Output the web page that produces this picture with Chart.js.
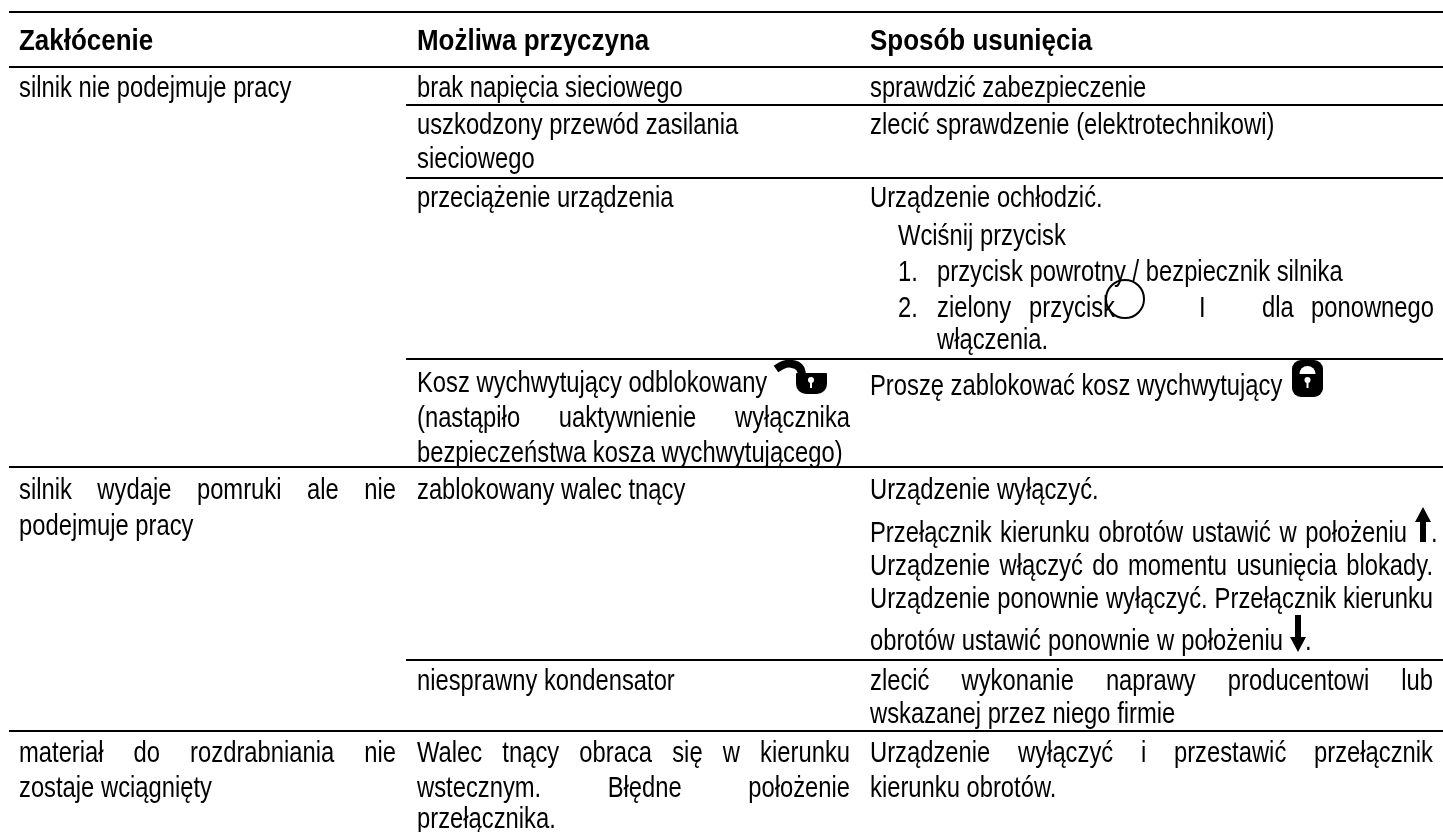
<!DOCTYPE html>
<html>
<head>
<meta charset="utf-8">
<script src="https://cdn.jsdelivr.net/npm/chart.js@4/dist/chart.umd.min.js"></script>
<style>
  html, body { margin: 0; padding: 0; background: #fff; }
  canvas { display: block; }
</style>
</head>
<body>
<canvas id="table" width="1443" height="832"></canvas>
<script>
// the picture is a table, so the axes run in page units and carry the rules and text
const headers = ["Zakłócenie", "Możliwa przyczyna", "Sposób usunięcia"];
const headerX = [19, 417, 870];
const headerY = 50;

const faults = [
  "silnik nie podejmuje pracy",
  "silnik wydaje pomruki ale nie",
  "podejmuje pracy",
  "materiał do rozdrabniania nie",
  "zostaje wciągnięty",
];
const faultY = [97, 499, 535, 762, 797];

const causes = [
  "brak napięcia sieciowego",
  "uszkodzony przewód zasilania",
  "sieciowego",
  "przeciążenie urządzenia",
  "Kosz wychwytujący odblokowany",
  "(nastąpiło uaktywnienie wyłącznika",
  "bezpieczeństwa kosza wychwytującego)",
  "zablokowany walec tnący",
  "niesprawny kondensator",
  "Walec tnący obraca się w kierunku",
  "wstecznym. Błędne położenie",
  "przełącznika.",
];
const causeY = [97, 134, 168, 207, 392, 427, 462, 499, 690, 762, 797, 828];

const remedies = [
  "sprawdzić zabezpieczenie",
  "zlecić sprawdzenie (elektrotechnikowi)",
  "Urządzenie ochłodzić.",
  "Wciśnij przycisk",
  "1.",
  "przycisk powrotny / bezpiecznik silnika",
  "2.",
  "zielony przycisk",
  "I",
  "dla ponownego",
  "włączenia.",
  "Proszę zablokować kosz wychwytujący",
  "Urządzenie wyłączyć.",
  "Przełącznik kierunku obrotów ustawić w położeniu",
  ".",
  "Urządzenie włączyć do momentu usunięcia blokady.",
  "Urządzenie ponownie wyłączyć. Przełącznik kierunku",
  "obrotów ustawić ponownie w położeniu",
  ".",
  "zlecić wykonanie naprawy producentowi lub",
  "wskazanej przez niego firmie",
  "Urządzenie wyłączyć i przestawić przełącznik",
  "kierunku obrotów.",
];
const remedyX = [870, 870, 870, 898, 898, 937, 898, 937, 1199, 1262, 937, 870, 870, 870, 1431, 870, 870, 870, 1305, 870, 870, 870, 870];
const remedyY = [97, 134, 207, 245, 281, 281, 317, 317, 317, 317, 349, 395, 499, 542, 542, 575, 608, 650, 650, 690, 723, 762, 797];

// lines set full measure, mapped to their right edge
const justified = {
  "silnik wydaje pomruki ale nie": 396,
  "materiał do rozdrabniania nie": 396,
  "(nastąpiło uaktywnienie wyłącznika": 850,
  "Walec tnący obraca się w kierunku": 850,
  "wstecznym. Błędne położenie": 850,
  "zielony przycisk": 1115,
  "dla ponownego": 1434,
  "Przełącznik kierunku obrotów ustawić w położeniu": 1407,
  "Urządzenie włączyć do momentu usunięcia blokady.": 1433,
  "Urządzenie ponownie wyłączyć. Przełącznik kierunku": 1433,
  "obrotów ustawić ponownie w położeniu": 1283,
  "zlecić wykonanie naprawy producentowi lub": 1433,
  "Urządzenie wyłączyć i przestawić przełącznik": 1433,
};

const ruleY = [12, 67, 105, 178, 359, 467, 660, 731];
const ruleStart = [9, 9, 406, 406, 406, 9, 406, 9];
const pageRight = 1443;

const FONT_SIZE = 29;
const X_SQUEEZE = 0.82;
const X_SQUEEZE_BOLD = 0.895;

function putText(ctx, scales, text, x, y, bold) {
  const right = justified[text];
  const squeeze = bold ? X_SQUEEZE_BOLD : X_SQUEEZE;
  ctx.save();
  ctx.font = `${bold ? "bold " : ""}${FONT_SIZE}px "Liberation Sans", Arial, sans-serif`;
  ctx.fillStyle = "#000";
  ctx.textBaseline = "alphabetic";
  ctx.translate(scales.x.getPixelForValue(x), scales.y.getPixelForValue(y));
  ctx.scale(squeeze, 1);
  const gaps = text.split(" ").length - 1;
  if (right && gaps > 0) {
    const spare = (right - x) / squeeze - ctx.measureText(text).width;
    ctx.wordSpacing = `${spare / gaps}px`;
  }
  ctx.fillText(text, 0, 0);
  ctx.restore();
}

function drawArrow(ctx, scales, x, top, bottom, up) {
  const px = scales.x.getPixelForValue(x);
  const y0 = scales.y.getPixelForValue(top);
  const y1 = scales.y.getPixelForValue(bottom);
  const tip = up ? y0 : y1;
  const tail = up ? y1 : y0;
  const dir = up ? 1 : -1;
  ctx.fillStyle = "#000";
  ctx.beginPath();
  ctx.moveTo(px, tip);
  ctx.lineTo(px + 8, tip + dir * 15);
  ctx.lineTo(px + 3, tip + dir * 15);
  ctx.lineTo(px + 3, tail);
  ctx.lineTo(px - 3, tail);
  ctx.lineTo(px - 3, tip + dir * 15);
  ctx.lineTo(px - 8, tip + dir * 15);
  ctx.closePath();
  ctx.fill();
}

function keyhole(ctx, cx, cy) {
  ctx.fillStyle = "#fff";
  ctx.beginPath();
  ctx.arc(cx, cy, 3, 0, Math.PI * 2);
  ctx.fill();
  ctx.fillRect(cx - 1, cy, 2, 8);
}

const tablePlugin = {
  id: "tableText",
  afterDatasetsDraw(chart) {
    const { ctx, scales } = chart;
    headers.forEach((t, i) => putText(ctx, scales, t, headerX[i], headerY, true));
    faults.forEach((t, i) => putText(ctx, scales, t, headerX[0], faultY[i]));
    causes.forEach((t, i) => putText(ctx, scales, t, headerX[1], causeY[i]));
    remedies.forEach((t, i) => putText(ctx, scales, t, remedyX[i], remedyY[i]));

    drawArrow(ctx, scales, 1423, 507, 542, true);
    drawArrow(ctx, scales, 1298, 615, 652, false);

    const X = (v) => scales.x.getPixelForValue(v);
    const Y = (v) => scales.y.getPixelForValue(v);

    // open padlock
    ctx.strokeStyle = "#000";
    ctx.fillStyle = "#000";
    ctx.lineWidth = 8;
    ctx.beginPath();
    ctx.moveTo(X(776), Y(369));
    ctx.quadraticCurveTo(X(786), Y(362), X(792), Y(364));
    ctx.quadraticCurveTo(X(802), Y(365), X(802), Y(376));
    ctx.stroke();
    ctx.beginPath();
    ctx.roundRect(X(796), Y(373), 31, 21, [1, 1, 10, 10]);
    ctx.fill();
    keyhole(ctx, X(811), Y(380));

    // closed padlock, a solid block with a white dome under the shackle
    ctx.fillStyle = "#000";
    ctx.beginPath();
    ctx.roundRect(X(1292), Y(360), 31, 37, 9);
    ctx.fill();
    ctx.fillStyle = "#fff";
    ctx.beginPath();
    ctx.arc(X(1307.5), Y(374), 8, Math.PI, 0);
    ctx.closePath();
    ctx.fill();
    keyhole(ctx, X(1307.5), Y(380));
  },
};

const datasets = ruleY.map((y, i) => ({
  type: "line",
  data: [{ x: ruleStart[i], y }, { x: pageRight, y }],
  borderColor: "#000",
  borderWidth: 2,
  pointRadius: 0,
  fill: false,
}));

// the ring round the switch label
datasets.push({
  type: "scatter",
  data: [{ x: 1125, y: 299 }],
  pointStyle: "circle",
  pointRadius: 19,
  pointBorderWidth: 2,
  pointBorderColor: "#000",
  pointBackgroundColor: "transparent",
});

new Chart(document.getElementById("table"), {
  type: "scatter",
  data: { datasets },
  options: {
    responsive: false,
    animation: false,
    layout: { padding: 0, autoPadding: false },
    plugins: { legend: { display: false }, tooltip: { enabled: false } },
    scales: {
      x: { type: "linear", display: false, min: 0, max: 1443 },
      y: { type: "linear", display: false, min: 0, max: 832, reverse: true },
    },
  },
  plugins: [tablePlugin],
});
</script>
</body>
</html>
